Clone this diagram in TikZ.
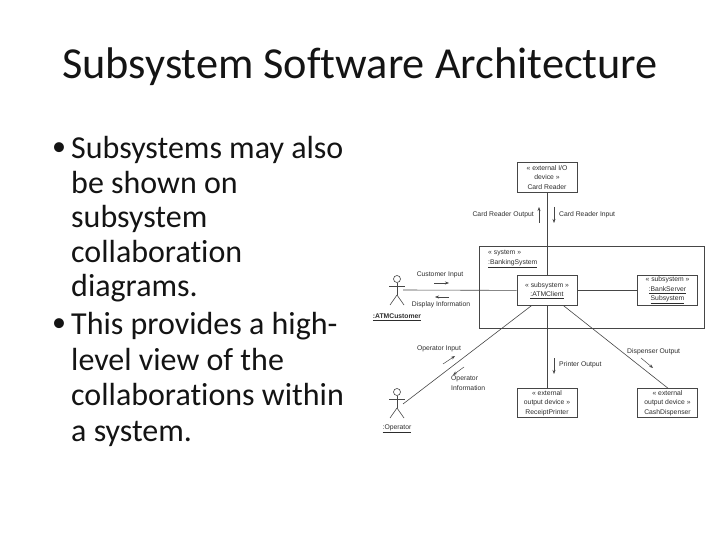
\documentclass[tikz,border=0pt]{standalone}
\usepackage{fontspec}
\setmainfont[Ligatures=NoCommon]{Carlito}
\newfontfamily\umlfont{Liberation Sans}
\usetikzlibrary{arrows.meta, positioning, calc}
\definecolor{umlline}{RGB}{70,70,70}
\definecolor{umltext}{RGB}{45,45,45}
\definecolor{slidetext}{RGB}{20,20,20}

\begin{document}
\begin{tikzpicture}[
    x=1pt, y=-1pt,
    title/.style={font=\fontsize{44.3}{48}\selectfont, text=slidetext},
    bullettext/.style={anchor=north west, align=left, inner sep=0pt, text=slidetext,
                  font=\fontsize{32}{34.6}\selectfont},
    bulletmark/.style={inner sep=0pt, text=slidetext, font=\fontsize{28}{30}\selectfont},
    objbox/.style={rectangle, draw=umlline, fill=white, line width=0.7pt, minimum width=60pt,
                  minimum height=29.5pt, inner sep=0pt, align=center, text=umltext,
                  font=\umlfont\fontsize{6.8}{9.5}\selectfont},
    lbl/.style={inner sep=0pt, align=left, text=umltext, font=\umlfont\fontsize{6.8}{10}\selectfont},
    link/.style={draw=umlline, line width=0.6pt},
    msg/.style={-{Stealth[length=4pt,width=3pt]}, draw=umlline, line width=0.5pt},
    head/.style={circle, draw=umlline, fill=white, line width=0.6pt, minimum size=7pt, inner sep=0pt}
]
\useasboundingbox (0,0) rectangle (720,540);

\node[title] (heading) at (360,67) {Subsystem Software Architecture};
\node[bulletmark] (b1) at (59,149) {•};
\node[bullettext] (t1) at (71,136) {Subsystems may also\\be shown on\\subsystem\\collaboration\\diagrams.};
\node[bulletmark] (b2) at (59,325) {•};
\node[bullettext, font=\fontsize{32}{35.7}\selectfont] (t2) at (71,312) {This provides a high-\\level view of the\\collaborations within\\a system.};

% system frame
\node[draw=umlline, line width=0.8pt, minimum width=225pt, minimum height=82pt, inner sep=0pt] (sys) at (591.5,287) {};
\node[lbl, anchor=north west] (sysname) at (488,250) {« system »\\\underline{:BankingSystem}};

% objects
\node[objbox] (reader) at (547,177.5) {« external I/O\\device »\\Card Reader};
\node[objbox] (client) at (547,290.5) {« subsystem »\\\underline{:ATMClient}};
\node[objbox] (bank) at (667.5,290.5) {« subsystem »\\\underline{:BankServer}\\\underline{Subsystem}};
\node[objbox] (printer) at (547,403) {« external\\output device »\\ReceiptPrinter};
\node[objbox] (cash) at (667.5,403) {« external\\output device »\\CashDispenser};

% actors
\node[head] (custhead) at (397,279) {};
\coordinate (custbody) at (397,295);
\coordinate (custport) at (403,290);
\draw[link] (custhead.south) -- (custbody);
\draw[link] (389,286) -- (405,286);
\draw[link] (custbody) -- (390,305);
\draw[link] (custbody) -- (404,305);
\node[lbl, font=\umlfont\bfseries\fontsize{6.8}{9}\selectfont] (custname) at (397,317) {\underline{:ATMCustomer}};

\node[head] (ophead) at (397,392) {};
\coordinate (opbody) at (397,408);
\coordinate (opport) at (403,404);
\draw[link] (ophead.south) -- (opbody);
\draw[link] (389,399) -- (405,399);
\draw[link] (opbody) -- (390,418);
\draw[link] (opbody) -- (404,418);
\node[lbl] (opname) at (397,429) {\underline{:Operator}};

% links
\draw[link] (reader) -- (client);
\draw[link] (custport) -- (client);
\draw[link] (client) -- (bank);
\draw[link] (client) -- (printer);
\coordinate (clientsw) at (532,305.25);
\coordinate (clientse) at (563,305.25);
\coordinate (cashtop) at (668,388.25);
\draw[link] (opport) -- (clientsw);
\draw[link] (clientse) -- (cashtop);

% messages
\node[lbl, anchor=east] (m1) at (534,215) {Card Reader Output};
\node[lbl, anchor=west] (m2) at (559,215) {Card Reader Input};
\node[lbl] (m3) at (440,275) {Customer Input};
\node[lbl] (m4) at (441,305) {Display Information};
\node[lbl] (m5) at (439,349) {Operator Input};
\node[lbl, anchor=north west] (m6) at (451,376) {Operator\\Information};
\node[lbl, anchor=west] (m7) at (559,365) {Printer Output};
\node[lbl, anchor=west] (m8) at (627,352) {Dispenser Output};

\coordinate (a1s) at (539,223); \coordinate (a1e) at (539,207);
\coordinate (a2s) at (554,207); \coordinate (a2e) at (554,223);
\coordinate (a3s) at (434,283); \coordinate (a3e) at (449,283);
\coordinate (a4s) at (449,297); \coordinate (a4e) at (435,297);
\coordinate (a5s) at (443,364); \coordinate (a5e) at (455,356);
\coordinate (a6s) at (464,367); \coordinate (a6e) at (453,375);
\coordinate (a7s) at (554,358); \coordinate (a7e) at (554,374);
\coordinate (a8s) at (641,358); \coordinate (a8e) at (653,368);
\foreach \i in {1,...,8}
    \draw[msg] (a\i s) -- (a\i e);
\end{tikzpicture}
\end{document}
